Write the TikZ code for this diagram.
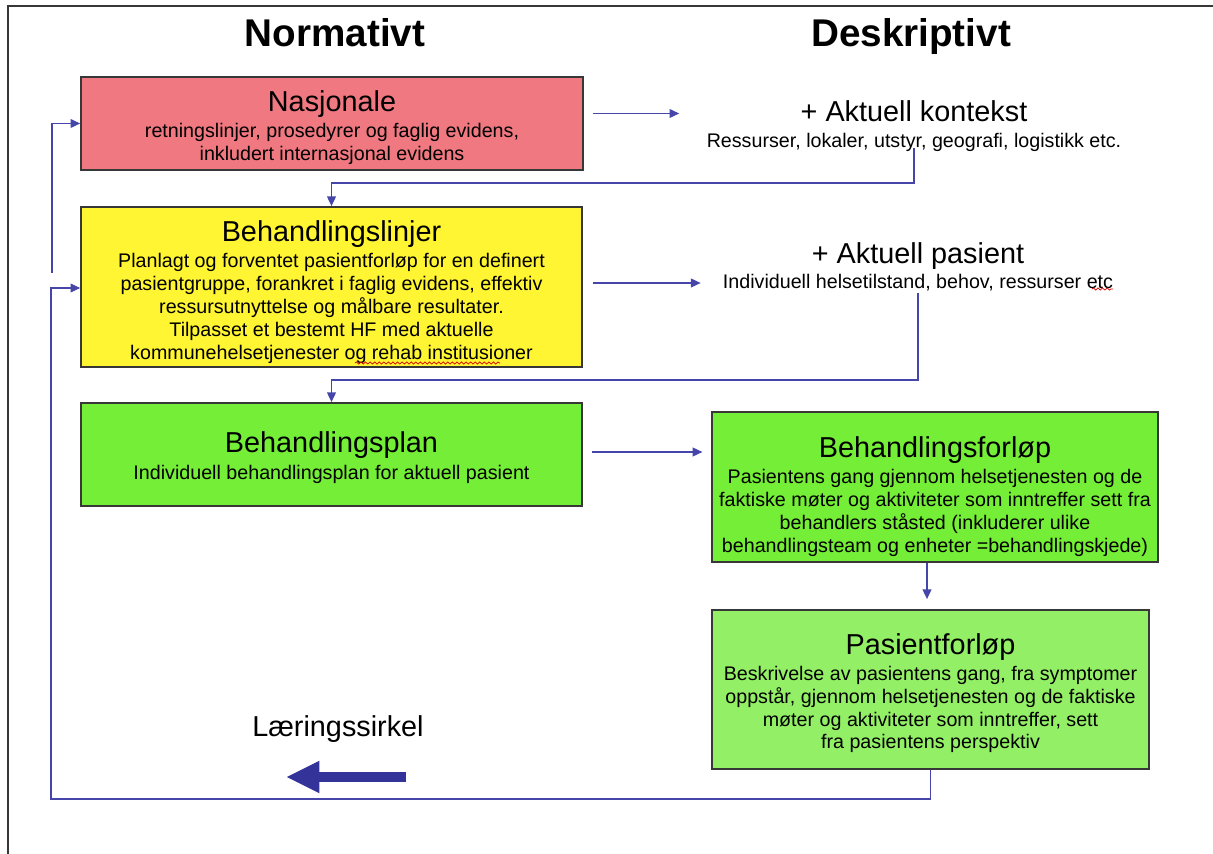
\documentclass[tikz,border=0pt]{standalone}
\usepackage{fontspec}
\setmainfont{Liberation Sans}
\usetikzlibrary{arrows.meta,decorations.pathmorphing}

\definecolor{boxred}{RGB}{240,120,128}
\definecolor{boxyellow}{RGB}{255,245,50}
\definecolor{boxgreen}{RGB}{117,238,55}
\definecolor{boxlight}{RGB}{147,240,102}
\definecolor{linkblue}{RGB}{70,70,170}
\definecolor{arrowblue}{RGB}{51,51,153}
\definecolor{framegray}{RGB}{55,55,55}

\newcommand{\bodysize}{\fontsize{11.2}{13}\selectfont}
\newcommand{\headsize}{\fontsize{16.4}{18}\selectfont}
% invisible strut that pushes a box's text block downwards
\newcommand{\toppad}[1]{\rule{0pt}{#1}}

\tikzset{
  box/.style={draw=framegray, line width=1pt, inner sep=1pt, align=center, font=\bodysize},
  plaintext/.style={inner sep=1pt, align=center, font=\bodysize},
  heading/.style={inner sep=0pt, anchor=base, font=\fontsize{22}{26}\selectfont\bfseries},
  conn/.style={draw=linkblue, line width=0.8pt, -{Triangle[length=5.5pt,width=5pt]}},
  bigarrow/.style={draw=arrowblue, line width=5.7pt, -{Triangle[length=19pt,width=17pt]}},
  frameline/.style={draw=framegray, line width=1.3pt},
  spell/.style={draw=red!85!black, line width=0.4pt, decorate,
    decoration={snake, amplitude=0.6pt, segment length=2.6pt}}
}

\begin{document}
\begin{tikzpicture}[x=0.02cm, y=-0.02cm]
  \useasboundingbox (0,0) rectangle (1213,854);

  % page frame (top and left edge)
  \draw[frameline] (1213,6) -- (8,6) -- (8,854);

  % column headings
  \node[heading] (norm) at (335,47) {Normativt};
  \node[heading] (desk) at (911,47) {Deskriptivt};

  % normative boxes
  \node[box, fill=boxred, minimum width=10.04cm, minimum height=1.86cm] (nas) at (332,123.5)
    {{\headsize\toppad{16.5pt}Nasjonale}\\[2pt]
     retningslinjer, prosedyrer og faglig evidens,\\
     inkludert internasjonal evidens};

  \node[box, fill=boxyellow, minimum width=10.02cm, minimum height=3.2cm] (linj) at (331.5,287)
    {{\headsize\toppad{17.5pt}Behandlingslinjer}\\[2pt]
     Planlagt og forventet pasientforløp for en definert\\
     pasientgruppe, forankret i faglig evidens, effektiv\\
     ressursutnyttelse og målbare resultater.\\
     Tilpasset et bestemt HF med aktuelle\\
     kommunehelsetjenester og rehab institusioner};

  \node[box, fill=boxgreen, minimum width=10.02cm, minimum height=2.06cm] (plan) at (331.5,454.5)
    {{\headsize\toppad{15.5pt}Behandlingsplan}\\[2pt]
     Individuell behandlingsplan for aktuell pasient};

  % descriptive side
  \node[plaintext] (kon) at (914,126)
    {{\headsize + Aktuell kontekst}\\[2pt]
     Ressurser, lokaler, utstyr, geografi, logistikk etc.};

  \node[plaintext] (akt) at (918,267)
    {{\headsize + Aktuell pasient}\\[1pt]
     Individuell helsetilstand, behov, ressurser etc};

  \node[box, fill=boxgreen, minimum width=8.92cm, minimum height=3.0cm] (forl) at (935,487)
    {{\headsize\toppad{22.5pt}Behandlingsforløp}\\[2pt]
     Pasientens gang gjennom helsetjenesten og de\\
     faktiske møter og aktiviteter som inntreffer sett fra\\
     behandlers ståsted (inkluderer ulike\\
     behandlingsteam og enheter =behandlingskjede)};

  \node[box, fill=boxlight, minimum width=8.74cm, minimum height=3.18cm] (pas) at (930.5,689.5)
    {{\headsize\toppad{16pt}Pasientforløp}\\[2pt]
     Beskrivelse av pasientens gang, fra symptomer\\
     oppstår, gjennom helsetjenesten og de faktiske\\
     møter og aktiviteter som inntreffer, sett\\
     fra pasientens perspektiv};

  \node[inner sep=0pt, font=\headsize] (laer) at (338,729) {Læringssirkel};

  % spelling marks under words
  \draw[spell] (355,363) -- (500,363);
  \draw[spell] (1092,289) -- (1113,289);

  % connectors
  \coordinate (c1) at ([shift={(9,-10)}]nas.east);
  \draw[conn, shorten >=14.5pt] (c1) -- (c1 -| kon.west);
  \draw[conn] ([shift={(0,-6)}]kon.south) -- (kon.south |- 0,183) -| (linj.north);

  \coordinate (c3) at ([shift={(10,-4)}]linj.east);
  \draw[conn, shorten >=11.5pt] (c3) -- (c3 -| akt.west);
  \draw[conn] (akt.south) -- (akt.south |- 0,380) -| (plan.north);

  \coordinate (c5) at ([shift={(9,-2.5)}]plan.east);
  \draw[conn, shorten >=5pt] (c5) -- (c5 -| forl.west);

  \coordinate (c6) at ([shift={(-8,0)}]forl.south);
  \draw[conn, shorten >=5.7pt] (c6) -- (c6 |- pas.north);

  % learning loop back to the guideline boxes
  \draw[conn] (pas.south) -- ++(0,29) -| ([shift={(-29,1)}]linj.west) -- ([shift={(0,1)}]linj.west);
  \draw[conn] ([shift={(-28,-14)}]linj.west) |- (nas.west);

  % direction arrow of the learning cycle
  \coordinate (ls) at (406,777);
  \coordinate (le) at (286,777);
  \draw[bigarrow] (ls) -- (le);
\end{tikzpicture}
\end{document}
